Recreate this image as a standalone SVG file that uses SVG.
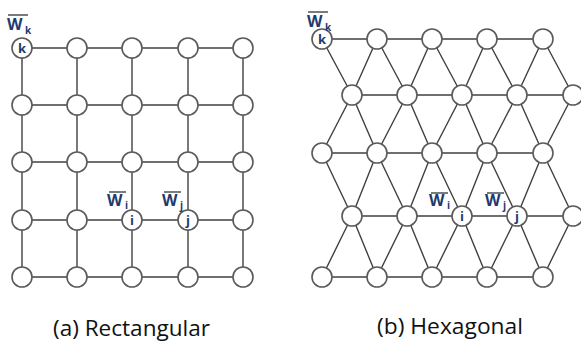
<svg xmlns="http://www.w3.org/2000/svg" width="581" height="348" viewBox="0 0 581 348">
<style>
.e{stroke:#404040;stroke-width:1.4;fill:none}
.n{fill:#fff;stroke:#5a5a5a;stroke-width:1.6}
.lb{font-family:"Open Sans","Liberation Sans",sans-serif;font-weight:700;fill:#1f3a6e}
.W{font-size:16px}
.s{font-size:10px}
.c{font-size:13px;text-anchor:middle}
.ol{stroke:#333;stroke-width:1.3}
.cap{font-family:"Open Sans","Liberation Sans",sans-serif;font-size:21px;fill:#111}
</style>
<rect width="581" height="348" fill="#fff"/>
<g id="connectors">
<path class="e" d="M22 48H243M22 105H243M22 162H243M22 220H243M22 277H243"/>
<path class="e" d="M22 48V277M77 48V277M132 48V277M188 48V277M243 48V277"/>
<path class="e" d="M322 39H543M352 95H573M322 153H543M352 216H573M322 277H543"/>
<path class="e" d="M322 39L352 95M377 39L352 95M377 39L407 95M432 39L407 95M432 39L462 95M487 39L462 95M487 39L517 95M543 39L517 95M543 39L573 95"/>
<path class="e" d="M322 153L352 95M377 153L352 95M377 153L407 95M432 153L407 95M432 153L462 95M487 153L462 95M487 153L517 95M543 153L517 95M543 153L573 95"/>
<path class="e" d="M322 153L352 216M377 153L352 216M377 153L407 216M432 153L407 216M432 153L462 216M487 153L462 216M487 153L517 216M543 153L517 216M543 153L573 216"/>
<path class="e" d="M322 277L352 216M377 277L352 216M377 277L407 216M432 277L407 216M432 277L462 216M487 277L462 216M487 277L517 216M543 277L517 216M543 277L573 216"/>
</g>
<g id="rect-nodes">
<circle class="n" cx="22" cy="48" r="10"/><circle class="n" cx="77" cy="48" r="10"/><circle class="n" cx="132" cy="48" r="10"/><circle class="n" cx="188" cy="48" r="10"/><circle class="n" cx="243" cy="48" r="10"/>
<circle class="n" cx="22" cy="105" r="10"/><circle class="n" cx="77" cy="105" r="10"/><circle class="n" cx="132" cy="105" r="10"/><circle class="n" cx="188" cy="105" r="10"/><circle class="n" cx="243" cy="105" r="10"/>
<circle class="n" cx="22" cy="162" r="10"/><circle class="n" cx="77" cy="162" r="10"/><circle class="n" cx="132" cy="162" r="10"/><circle class="n" cx="188" cy="162" r="10"/><circle class="n" cx="243" cy="162" r="10"/>
<circle class="n" cx="22" cy="220" r="10"/><circle class="n" cx="77" cy="220" r="10"/><circle class="n" cx="132" cy="220" r="10"/><circle class="n" cx="188" cy="220" r="10"/><circle class="n" cx="243" cy="220" r="10"/>
<circle class="n" cx="22" cy="277" r="10"/><circle class="n" cx="77" cy="277" r="10"/><circle class="n" cx="132" cy="277" r="10"/><circle class="n" cx="188" cy="277" r="10"/><circle class="n" cx="243" cy="277" r="10"/>
</g>
<g id="hex-nodes">
<circle class="n" cx="322" cy="39" r="10"/><circle class="n" cx="377" cy="39" r="10"/><circle class="n" cx="432" cy="39" r="10"/><circle class="n" cx="487" cy="39" r="10"/><circle class="n" cx="543" cy="39" r="10"/>
<circle class="n" cx="352" cy="95" r="10"/><circle class="n" cx="407" cy="95" r="10"/><circle class="n" cx="462" cy="95" r="10"/><circle class="n" cx="517" cy="95" r="10"/><circle class="n" cx="573" cy="95" r="10"/>
<circle class="n" cx="322" cy="153" r="10"/><circle class="n" cx="377" cy="153" r="10"/><circle class="n" cx="432" cy="153" r="10"/><circle class="n" cx="487" cy="153" r="10"/><circle class="n" cx="543" cy="153" r="10"/>
<circle class="n" cx="352" cy="216" r="10"/><circle class="n" cx="407" cy="216" r="10"/><circle class="n" cx="462" cy="216" r="10"/><circle class="n" cx="517" cy="216" r="10"/><circle class="n" cx="573" cy="216" r="10"/>
<circle class="n" cx="322" cy="277" r="10"/><circle class="n" cx="377" cy="277" r="10"/><circle class="n" cx="432" cy="277" r="10"/><circle class="n" cx="487" cy="277" r="10"/><circle class="n" cx="543" cy="277" r="10"/>
</g>
<g id="rect-labels">
<g id="rk"><line class="ol" x1="8" y1="15" x2="28" y2="15"/><text class="lb W" x="7" y="30">W</text><text class="lb s" x="25" y="34">k</text><text class="lb c" x="22" y="52.5">k</text></g>
<g id="ri"><line class="ol" x1="109" y1="192" x2="126" y2="192"/><text class="lb W" x="107" y="206">W</text><text class="lb s" x="125" y="209">i</text><text class="lb c" x="132" y="224.5">i</text></g>
<g id="rj"><line class="ol" x1="164" y1="192" x2="181" y2="192"/><text class="lb W" x="162" y="206">W</text><text class="lb s" x="180" y="209">j</text><text class="lb c" x="188" y="224.5">j</text></g>
</g>
<g id="hex-labels">
<g id="hk"><line class="ol" x1="308" y1="12" x2="328" y2="12"/><text class="lb W" x="307" y="27">W</text><text class="lb s" x="325" y="31">k</text><text class="lb c" x="322" y="43.5">k</text></g>
<g id="hi"><line class="ol" x1="431" y1="193" x2="448" y2="193"/><text class="lb W" x="429" y="206">W</text><text class="lb s" x="447" y="209">i</text><text class="lb c" x="462" y="220.5">i</text></g>
<g id="hj"><line class="ol" x1="487" y1="193" x2="504" y2="193"/><text class="lb W" x="485" y="206">W</text><text class="lb s" x="503" y="209">j</text><text class="lb c" x="517" y="220.5">j</text></g>
</g>
<text class="cap" x="53" y="336" textLength="157" lengthAdjust="spacingAndGlyphs">(a) Rectangular</text>
<text class="cap" x="377" y="334" textLength="146" lengthAdjust="spacingAndGlyphs">(b) Hexagonal</text>
</svg>
